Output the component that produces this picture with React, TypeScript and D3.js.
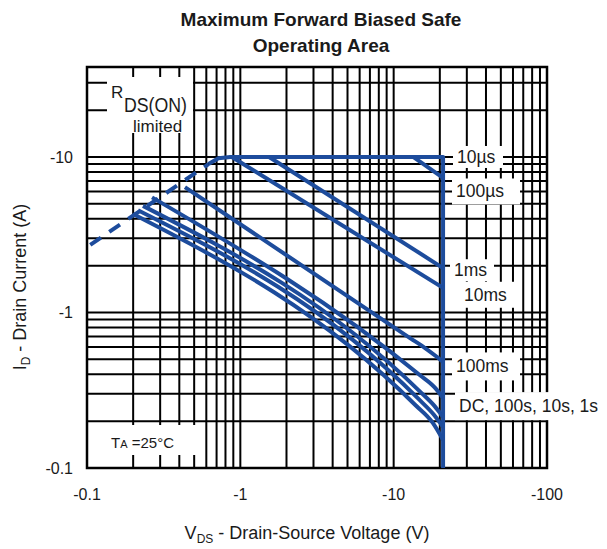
import React from "react";
import * as d3 from "d3";

const W = 607;
const H = 549;

// Axis ticks (magnitudes) and their printed labels
const xTickValues = [0.1, 1, 10, 100];
const xTickLabels = ["-0.1", "-1", "-10", "-100"];
const yTickValues = [0.1, 1, 10];
const yTickLabels = ["-0.1", "-1", "-10"];

// Safe operating area boundaries: [|VDS| (V), |ID| (A)]
const rdsLimit: [number, number][] = [[0.105, 2.72], [0.62, 9.0]];
const curve10us: [number, number][] = [[0.62, 9.0], [0.72, 9.8], [0.86, 10], [21, 10], [21, 0.1]];
const curve100us: [number, number][] = [[13.4, 10], [21, 7.33]];
const curve1ms: [number, number][] = [[1.54, 10], [21, 1.93]];
const curve10ms: [number, number][] = [[0.88, 10], [21, 1.44]];
const curve100ms: [number, number][] = [[0.4355, 6.4], [13.38, 0.665], [16.03, 0.591], [19.19, 0.517], [21, 0.48]];
const curve1s: [number, number][] = [[0.2655, 5.5], [14.86, 0.395], [18.5, 0.33], [21, 0.282]];
const curve10s: [number, number][] = [[0.2318, 4.85], [14.86, 0.31], [18.5, 0.25], [21, 0.2128]];
const curve100s: [number, number][] = [[0.2151, 4.55], [14.42, 0.28], [18.3, 0.22], [21, 0.1835]];
const curveDC: [number, number][] = [[0.1996, 4.3], [13.79, 0.255], [18.0, 0.195], [21, 0.1514]];

const pulseLabels = ["10µs", "100µs", "1ms", "10ms", "100ms", "DC, 100s, 10s, 1s"];
const pulseLabelCurrents = [10, 6.0, 1.87, 1.3, 0.45, 0.25];

const BLUE = "#1d4c9c";
const INK = "#1a1a1a";

export default function App() {
  const left = 87, right = 547, top = 67, bottom = 468;
  const x = d3.scaleLog().domain([0.1, 100]).range([left, right]);
  const y = d3.scaleLog().domain([0.1, 37.9]).range([bottom, top]);

  const vGrid: number[] = [];
  for (let e = -1; e <= 1; e++) for (let k = 1; k <= 9; k++) vGrid.push(k * Math.pow(10, e));
  vGrid.push(100);
  const hGrid: number[] = [];
  for (let e = -1; e <= 1; e++) for (let k = 1; k <= 9; k++) {
    const v = k * Math.pow(10, e);
    if (v < 37) hGrid.push(v);
  }

  const lin = d3.line<[number, number]>().x(d => x(d[0])).y(d => y(d[1]));
  const smooth = d3.line<[number, number]>().x(d => x(d[0])).y(d => y(d[1])).curve(d3.curveMonotoneX);

  const solidLinear = [curve10us, curve100us, curve1ms, curve10ms];
  const solidSmooth = [curve100ms, curve1s, curve10s, curve100s, curveDC];

  // white boxes behind the pulse-width labels: [x, width, height]
  const boxGeom: [number, number, number][] = [
    [453, 50, 22], [452, 68, 26], [450, 44, 22], [460, 58, 26], [452, 68, 28], [455, 152, 28],
  ];

  return (
    <svg width={W} height={H} style={{ position: "absolute", left: 0, top: 0, background: "#fff" }}
      fontFamily="'Liberation Sans', Arial, sans-serif">
      <rect x={0} y={0} width={W} height={H} fill="#fff" />
      <text x={321} y={26} textAnchor="middle" fontWeight="bold" fontSize={19} fill={INK}>
        Maximum Forward Biased Safe
      </text>
      <text x={321} y={52} textAnchor="middle" fontWeight="bold" fontSize={19} fill={INK}>
        Operating Area
      </text>

      {/* grid */}
      <g stroke="#000" strokeWidth={2}>
        {vGrid.map((v, i) => (
          <line key={"v" + i} x1={x(v)} x2={x(v)} y1={top} y2={bottom} />
        ))}
        {hGrid.map((v, i) => (
          <line key={"h" + i} x1={left} x2={right} y1={y(v)} y2={y(v)} />
        ))}
        <rect x={left} y={top} width={right - left} height={bottom - top} fill="none" strokeWidth={2.5} />
      </g>

      {/* annotation boxes */}
      <rect x={107} y={77} width={86} height={56} fill="#fff" />
      <text fill={INK}>
        <tspan x={111} y={98} fontSize={17}>R</tspan>
        <tspan x={124} y={112} fontSize={20} textLength={63} lengthAdjust="spacingAndGlyphs">DS(ON)</tspan>
      </text>
      <text x={133} y={132} fontSize={17} fill={INK}>limited</text>

      <rect x={89} y={425} width={110} height={30} fill="#fff" />
      <text y={448} fill={INK} fontSize={15}>
        <tspan x={111}>T</tspan>
        <tspan fontSize={11}>A</tspan>
        <tspan> =25°C</tspan>
      </text>

      {pulseLabels.map((t, i) => {
        const cy = y(pulseLabelCurrents[i]);
        const [bx, bw, bh] = boxGeom[i];
        return (
          <g key={t}>
            <rect x={bx} y={cy - bh / 2} width={bw} height={bh} fill="#fff" />
            <text x={bx + 4} y={cy + 6} fontSize={17.5} fill={INK}>{t}</text>
          </g>
        );
      })}

      {/* SOA curves */}
      <g fill="none" stroke={BLUE} strokeWidth={4}>
        <path d={lin(rdsLimit) || ""} strokeDasharray="13 10" />
        {solidLinear.map((c, i) => <path key={"l" + i} d={lin(c) || ""} strokeLinejoin="round" />)}
        {solidSmooth.map((c, i) => <path key={"s" + i} d={smooth(c) || ""} />)}
      </g>

      {/* tick labels */}
      {xTickValues.map((v, i) => (
        <text key={"xt" + i} x={x(v)} y={500} textAnchor="middle" fontSize={16} fill={INK}>{xTickLabels[i]}</text>
      ))}
      {yTickValues.map((v, i) => (
        <text key={"yt" + i} x={73} y={y(v) + 6} textAnchor="end" fontSize={16} fill={INK}>{yTickLabels[i]}</text>
      ))}

      {/* axis titles */}
      <text x={307} y={539} textAnchor="middle" fontSize={18} fill={INK}>
        V<tspan fontSize={12} dy={4}>DS</tspan><tspan dy={-4}> - Drain-Source Voltage (V)</tspan>
      </text>
      <text transform="translate(26,287) rotate(-90)" textAnchor="middle" fontSize={18} fill={INK}>
        I<tspan fontSize={12} dy={4}>D</tspan><tspan dy={-4}> - Drain Current (A)</tspan>
      </text>
    </svg>
  );
}
